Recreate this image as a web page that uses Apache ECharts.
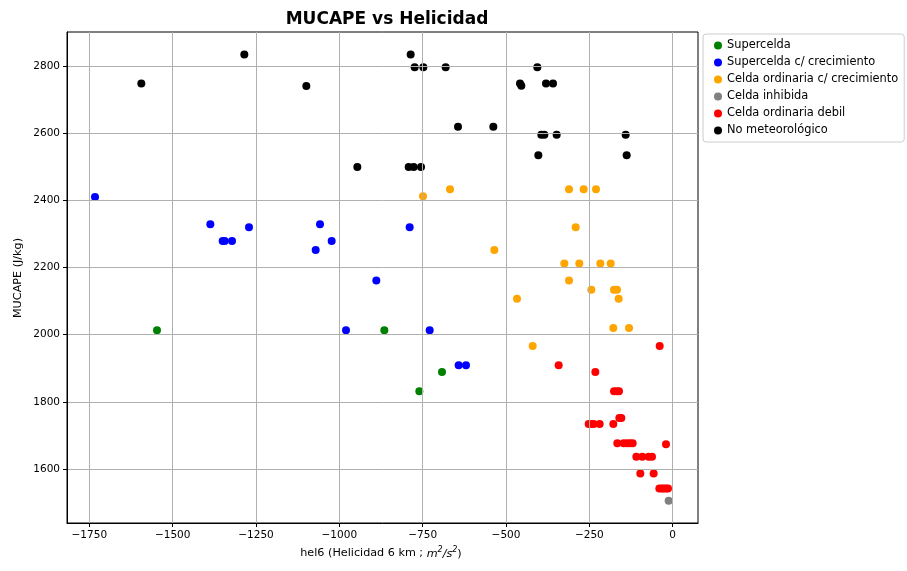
<!DOCTYPE html>
<html>
<head>
<meta charset="utf-8">
<script src="https://cdn.jsdelivr.net/npm/echarts@6.0.0/dist/echarts.min.js"></script>
<style>
  html, body { margin: 0; padding: 0; background: #fff; }
  #chart { width: 907px; height: 571px; }
</style>
</head>
<body>
<div id="chart"></div>
<script>
// datos: helicidad (x) y MUCAPE (y) por categoria
var superceldaHel = [-1547, -865, -692, -760];
var superceldaCape = [2013, 2013, 1889, 1832];

var superCrecHel = [-1733, -1387, -1350, -1344, -1322, -1271, -1058, -1071, -1023, -789, -889, -980, -729, -642, -620];
var superCrecCape = [2410, 2329, 2279, 2279, 2279, 2320, 2329, 2252, 2279, 2320, 2161, 2013, 2013, 1909, 1909];

var ordCrecHel = [-668, -749, -311, -267, -230, -291, -535, -325, -280, -217, -186, -311, -244, -176, -167, -467, -162, -178, -131, -420];
var ordCrecCape = [2433, 2412, 2433, 2433, 2433, 2320, 2252, 2212, 2212, 2212, 2212, 2161, 2134, 2134, 2134, 2107, 2107, 2020, 2020, 1966];

var inhibidaHel = [-12];
var inhibidaCape = [1506];

var debilHel = [-39, -342, -232, -176, -168, -161, -160, -154, -252, -244, -237, -219, -178, -166, -147, -137, -128, -120, -20, -109, -91, -72, -62, -97, -57, -40, -33, -27, -20, -14];
var debilCape = [1966, 1909, 1889, 1832, 1832, 1832, 1752, 1752, 1734, 1734, 1734, 1734, 1734, 1677, 1677, 1677, 1677, 1677, 1674, 1637, 1637, 1637, 1637, 1587, 1587, 1542, 1542, 1542, 1542, 1542];

var noMetHel = [-1594, -1285, -1099, -946, -786, -774, -748, -681, -406, -458, -454, -380, -359, -644, -538, -394, -385, -348, -141, -403, -138, -792, -777, -755];
var noMetCape = [2748, 2834, 2740, 2499, 2834, 2796, 2796, 2796, 2796, 2748, 2741, 2748, 2748, 2619, 2619, 2595, 2595, 2595, 2595, 2534, 2534, 2499, 2499, 2499];

var xTicks = [-1750, -1500, -1250, -1000, -750, -500, -250, 0];
var yTicks = [1600, 1800, 2000, 2200, 2400, 2600, 2800];

var grupos = [
    { name: 'Supercelda', color: '#008000', hel: superceldaHel, cape: superceldaCape },
    { name: 'Supercelda c/ crecimiento', color: '#0000ff', hel: superCrecHel, cape: superCrecCape },
    { name: 'Celda ordinaria c/ crecimiento', color: '#ffa500', hel: ordCrecHel, cape: ordCrecCape },
    { name: 'Celda inhibida', color: '#808080', hel: inhibidaHel, cape: inhibidaCape },
    { name: 'Celda ordinaria debil', color: '#ff0000', hel: debilHel, cape: debilCape },
    { name: 'No meteorológico', color: '#000000', hel: noMetHel, cape: noMetCape }
];

function zip(a, b){
    let out = [];
    for(let i = 0; i < a.length; i++){
        out.push([a[i], b[i]]);
    }
    return out;
}

//signo menos tipografico como en matplotlib
function menos(v){
    return String(v).replace('-', '\u2212');
}

let series = grupos.map(function(g){
    return {
        name: g.name,
        type: 'scatter',
        symbol: 'circle',
        symbolSize: 8,
        itemStyle: { color: g.color, opacity: 1 },
        z: 2,
        data: zip(g.hel, g.cape)
    };
});

let chart = echarts.init(document.getElementById('chart'), null, { renderer: 'canvas' });
let opts = {
    animation: false,
    textStyle: { fontFamily: 'DejaVu Sans' },
    title: {
        text: 'MUCAPE vs Helicidad',
        left: 382,
        top: 6,
        textAlign: 'center',
        textStyle: { fontFamily: 'DejaVu Sans', fontSize: 17, fontWeight: 'bold', color: '#000' }
    },
    legend: {
        orient: 'vertical',
        left: 703,
        top: 34,
        padding: [6, 6, 6, 11],
        itemGap: 6,
        itemWidth: 8,
        itemHeight: 8,
        icon: 'circle',
        borderColor: '#cccccc',
        borderWidth: 1,
        borderRadius: 3,
        textStyle: { fontFamily: 'DejaVu Sans', fontSize: 11.4, color: '#000', padding: [0, 0, 0, 0] },
        data: grupos.map(function(g){ return g.name; })
    },
    grid: {
        left: 67,
        right: 209,
        top: 32,
        bottom: 48,
        show: true,
        borderColor: '#000',
        borderWidth: 1,
        backgroundColor: '#fff'
    },
    xAxis: {
        type: 'value',
        min: -1817,
        max: 76,
        z: 3,
        axisLine: { show: true, onZero: false, lineStyle: { color: '#000', width: 1 } },
        axisTick: { show: true, length: 4, customValues: xTicks, lineStyle: { color: '#000' } },
        axisLabel: {
            customValues: xTicks,
            fontFamily: 'DejaVu Sans',
            fontSize: 10.5,
            color: '#000',
            margin: 7,
            formatter: menos
        },
        splitLine: { show: true, lineStyle: { color: '#b0b0b0', width: 1 } }
    },
    yAxis: {
        type: 'value',
        min: 1439.5,
        max: 2901,
        z: 3,
        axisLine: { show: true, onZero: false, lineStyle: { color: '#000', width: 1 } },
        axisTick: { show: true, length: 4, customValues: yTicks, lineStyle: { color: '#000' } },
        axisLabel: {
            customValues: yTicks,
            fontFamily: 'DejaVu Sans',
            fontSize: 10.5,
            color: '#000',
            margin: 7,
            formatter: function(v){ return String(v); }
        },
        splitLine: { show: true, lineStyle: { color: '#b0b0b0', width: 1 } }
    },
    graphic: [
        {
            type: 'text',
            x: 381,
            y: 553,
            style: {
                text: 'hel6 (Helicidad 6 km ; {i|m}{s|2}{i|/s}{s|2}{n|)}',
                font: '11.2px "DejaVu Sans"',
                fill: '#000',
                align: 'center',
                verticalAlign: 'middle',
                rich: {
                    i: { fontStyle: 'italic', fontSize: 11.2, fontFamily: 'DejaVu Sans', lineHeight: 14, verticalAlign: 'bottom' },
                    s: { fontStyle: 'italic', fontSize: 8, fontFamily: 'DejaVu Sans', lineHeight: 14, verticalAlign: 'top' },
                    n: { fontSize: 11.2, fontFamily: 'DejaVu Sans', lineHeight: 14, verticalAlign: 'bottom' }
                }
            }
        },
        {
            type: 'text',
            x: 18,
            y: 278,
            rotation: Math.PI / 2,
            style: {
                text: 'MUCAPE (J/kg)',
                font: '11.2px "DejaVu Sans"',
                fill: '#000',
                align: 'center',
                verticalAlign: 'middle'
            }
        }
    ],
    series: series
};
chart.setOption(opts);
</script>
</body>
</html>
